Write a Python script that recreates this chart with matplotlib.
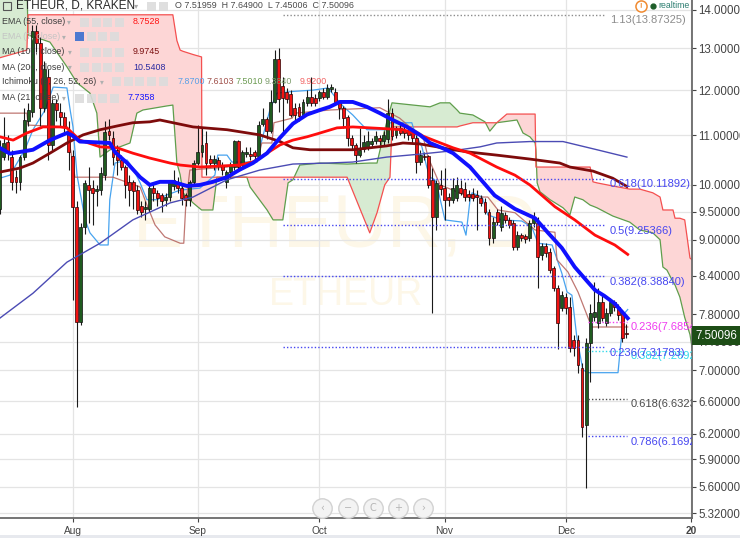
import numpy as np
import pandas as pd
import matplotlib
matplotlib.use('Agg')
import matplotlib.pyplot as plt
import matplotlib.transforms as mtransforms
from matplotlib.patches import Rectangle
from matplotlib.lines import Line2D
from matplotlib.ticker import NullLocator, NullFormatter

plt.rcParams['font.family'] = ['Liberation Sans', 'DejaVu Sans']

W, H = 740, 538
DAY0 = pd.Timestamp('2016-08-01')   # x axis = days since 1 Aug 2016

# daily candles 2016-07-14 .. 2016-12-16
candle_dates = pd.date_range('2016-07-14', '2016-12-16', freq='D')
opens = [9.55, 10.55, 10.86, 10.55, 10.15, 10.05, 10.55, 11.3, 11.5, 13.45,
         13.15, 11.6, 12.3, 10.8, 11.7, 11.5, 11.4, 11.1, 10.58, 9.59,
         7.68, 9.22, 10.0, 9.95, 9.88, 9.9, 10.2, 11.1, 10.95, 10.7,
         10.5, 10.35, 10.05, 10.05, 9.9, 9.6, 9.55, 9.55, 9.95, 9.85,
         9.8, 9.72, 9.78, 9.98, 10.05, 9.95, 9.8, 9.72, 10.05, 10.43,
         10.65, 10.85, 10.52, 10.43, 10.5, 10.4, 10.05, 10.25, 10.35, 10.88,
         10.4, 10.62, 10.62, 10.65, 10.57, 11.25, 11.35, 11.1, 11.73, 12.73,
         12.1, 11.95, 11.9, 11.6, 11.62, 11.45, 11.7, 11.85, 11.82, 11.82,
         11.95, 11.85, 12.02, 11.95, 11.73, 11.59, 11.4, 10.95, 10.8, 10.6,
         10.72, 10.75, 10.82, 10.88, 10.95, 10.88, 10.92, 11.48, 11.0, 11.15,
         11.12, 11.1, 11.05, 10.95, 10.45, 10.58, 10.58, 10.1, 9.4, 10.0,
         9.95, 9.78, 9.72, 9.76, 9.95, 9.92, 9.83, 9.83, 9.81, 9.75,
         9.68, 9.49, 9.03, 9.49, 9.22, 9.44, 9.35, 9.29, 8.88, 9.08,
         9.06, 9.03, 9.29, 9.29, 8.74, 8.9, 8.79, 8.52, 8.2, 7.9,
         8.06, 7.91, 7.42, 7.42, 7.03, 6.3, 7.38, 7.76, 7.67, 7.98,
         7.67, 7.82, 7.98, 7.91, 7.82, 7.51959]
highs = [10.9, 11.4, 11.0, 10.7, 10.3, 10.6, 11.6, 11.7, 13.6, 13.6,
         13.3, 12.7, 12.5, 11.8, 11.8, 11.7, 11.5, 11.3, 10.7, 9.7,
         9.3, 10.1, 10.35, 10.1, 10.0, 10.35, 11.3, 11.35, 11.1, 10.8,
         10.6, 10.4, 10.2, 10.1, 10.0, 9.7, 9.7, 10.0, 10.05, 9.9,
         9.85, 9.85, 10.1, 10.3, 10.15, 10.0, 9.85, 10.1, 10.5, 11.22,
         11.15, 11.1, 10.6, 10.6, 10.55, 10.45, 10.3, 10.45, 10.9, 10.9,
         10.7, 10.75, 10.75, 10.7, 11.3, 11.6, 11.4, 12.0, 12.95, 13.0,
         12.3, 12.05, 12.0, 11.7, 11.7, 11.8, 12.0, 12.3, 11.9, 12.0,
         12.05, 12.15, 12.15, 12.05, 11.75, 11.65, 11.45, 11.0, 10.85, 11.15,
         11.0, 11.1, 10.95, 11.1, 11.0, 11.1, 11.79, 11.6, 11.2, 11.25,
         11.2, 11.2, 11.15, 11.0, 10.7, 10.65, 10.6, 10.33, 10.1, 10.3,
         10.33, 9.85, 10.13, 10.15, 10.1, 10.05, 9.9, 9.95, 9.9, 9.8,
         9.75, 9.55, 9.4, 9.55, 9.6, 9.5, 9.4, 9.35, 9.15, 9.12,
         9.1, 9.35, 9.5, 9.4, 8.95, 8.95, 8.85, 8.55, 8.25, 8.15,
         8.12, 8.06, 7.5, 7.5, 7.1, 7.45, 7.95, 8.3, 8.2, 8.1,
         7.9, 8.05, 8.02, 7.95, 7.85, 7.649]
lows = [9.45, 10.5, 10.5, 9.9, 9.85, 9.9, 10.5, 11.2, 11.4, 12.9,
        11.2, 11.5, 10.5, 10.7, 11.3, 11.2, 11.0, 10.3, 8.02, 6.53,
        7.64, 9.1, 9.3, 9.25, 9.6, 9.8, 10.1, 10.9, 10.4, 10.2,
        10.3, 9.75, 9.6, 9.55, 9.45, 9.4, 9.35, 9.5, 9.7, 9.6,
        9.5, 9.6, 9.7, 9.9, 9.85, 9.62, 9.6, 9.6, 10.0, 10.4,
        10.55, 10.2, 10.35, 10.3, 10.3, 10.2, 9.95, 10.15, 10.3, 10.3,
        10.35, 10.55, 10.5, 10.5, 10.55, 11.2, 10.93, 11.05, 11.7, 11.5,
        11.0, 11.7, 11.4, 11.3, 11.3, 11.4, 11.65, 11.65, 11.65, 11.75,
        11.8, 11.8, 11.95, 11.7, 11.35, 11.15, 10.77, 10.7, 10.43, 10.55,
        10.65, 10.7, 10.75, 10.82, 10.8, 10.8, 10.85, 10.9, 10.95, 11.0,
        10.95, 10.9, 10.85, 10.23, 10.4, 10.5, 9.95, 7.82, 9.17, 9.8,
        9.35, 9.6, 9.65, 9.7, 9.8, 9.7, 9.7, 9.7, 9.17, 9.6,
        9.45, 8.91, 8.95, 9.25, 9.15, 9.3, 9.2, 8.83, 8.83, 8.98,
        8.95, 8.98, 9.22, 8.2, 8.65, 8.7, 8.45, 8.15, 7.3, 7.85,
        7.8, 7.25, 7.2, 6.97, 6.16, 5.58, 6.85, 7.7, 7.6, 7.7,
        7.62, 7.78, 7.85, 7.72, 7.4, 7.45006]
closes = [10.75, 10.85, 10.63, 10.06, 10.05, 10.55, 11.33, 11.55, 13.45, 13.14,
          11.6, 12.5, 10.8, 11.7, 11.55, 11.4, 11.2, 10.65, 9.59, 7.68,
          9.22, 10.04, 9.9, 9.85, 9.92, 10.23, 11.07, 11.0, 10.55, 10.5,
          10.35, 10.0, 9.9, 9.88, 9.53, 9.5, 9.58, 9.95, 9.85, 9.75,
          9.7, 9.78, 10.05, 10.1, 9.95, 9.75, 9.72, 10.05, 10.43, 10.65,
          10.8, 10.43, 10.43, 10.52, 10.4, 10.3, 10.25, 10.4, 10.88, 10.35,
          10.65, 10.65, 10.57, 10.57, 11.22, 11.35, 11.1, 11.73, 12.73, 11.8,
          11.82, 11.8, 11.45, 11.45, 11.42, 11.72, 11.85, 11.7, 11.7, 11.96,
          11.85, 12.05, 12.07, 11.73, 11.59, 11.38, 10.95, 10.8, 10.6, 10.7,
          10.87, 10.88, 10.88, 10.98, 10.88, 11.0, 11.48, 10.98, 11.12, 11.05,
          11.05, 11.0, 10.95, 10.45, 10.6, 10.55, 10.0, 9.4, 10.04, 9.93,
          9.72, 9.72, 9.95, 10.0, 9.85, 9.78, 9.78, 9.76, 9.77, 9.66,
          9.49, 9.03, 9.31, 9.31, 9.48, 9.35, 9.26, 8.88, 9.08, 9.03,
          9.01, 9.29, 9.38, 8.71, 8.9, 8.77, 8.49, 8.2, 7.67, 8.09,
          7.89, 7.31, 7.31, 7.07, 6.28, 7.38, 7.82, 7.84, 7.98, 7.74,
          7.82, 7.98, 7.91, 7.79, 7.45, 7.50096]

# indicator lines, read as (day, value) vertices
ma21_day = [-18, -15.5, -9.8, -5.6, -1.4, -0.1, 1.8, 9.2, 10.5, 13.5, 16.7, 19.1,
            21.6, 24.8, 28.3, 31.5, 34.7, 38.2, 41.4, 44.6, 48.1, 51.3, 54.5, 58,
            61.2, 63.6, 66.1, 69.3, 72.8, 76.0, 79.2, 82.7, 85.9, 88.4, 91.6, 94.1,
            98.3, 104.4, 109.4, 114.4, 117.6, 121.0, 124.2, 127.4, 129.2, 131.5,
            134.1, 137.3]
ma21_val = [10.74, 10.62, 10.70, 10.90, 11.05, 11.0, 10.87, 10.84, 10.65, 10.43,
            10.15, 10.0, 10.06, 10.06, 9.98, 10.0, 10.06, 10.15, 10.3, 10.43,
            10.63, 10.95, 11.25, 11.45, 11.55, 11.62, 11.73, 11.73, 11.62, 11.48,
            11.33, 11.18, 11.01, 10.84, 10.73, 10.63, 10.35, 9.8, 9.55, 9.38,
            9.12, 8.86, 8.54, 8.30, 8.17, 8.08, 7.96, 7.74]

ema55_day = [-18, -14.7, -11.3, -7.3, -3.1, -1.4, 1.8, 6.8, 11.0, 14.9, 19.1, 24.1,
             26.6, 31.5, 36.4, 41.4, 44.6, 48.1, 51.3, 54.5, 58.0, 61.2, 65.4,
             69.3, 73.5, 77.7, 81.7, 85.9, 90.1, 94.1, 98.3, 104.9, 109.4, 113.1,
             119.3, 124.2, 129.2, 134.1, 137.3]
ema55_val = [10.97, 10.90, 11.05, 11.18, 11.18, 11.16, 10.90, 10.76, 10.74, 10.63,
             10.53, 10.43, 10.39, 10.35, 10.37, 10.39, 10.45, 10.63, 10.80, 10.90,
             10.97, 11.05, 11.16, 11.18, 11.16, 11.14, 11.12, 11.01, 10.87, 10.74,
             10.63, 10.35, 10.19, 10.0, 9.59, 9.35, 9.08, 8.91, 8.75]

ma100_day = [-18, -13, -9.8, -5.6, -1.4, 2.6, 6.8, 11.0, 14.9, 19.1, 21.6, 29.8,
             38.2, 46.3, 51.3, 54.5, 58.7, 69.3, 77.7, 81.7, 85.9, 90.1, 94.1,
             98.3, 104.9, 113.1, 120.5, 123.0, 128.7, 133.6, 137.1]
ma100_val = [10.25, 10.33, 10.43, 10.63, 10.84, 11.01, 11.12, 11.20, 11.27, 11.29,
             11.33, 11.18, 11.12, 11.01, 10.87, 10.74, 10.70, 10.70, 10.78, 10.84,
             10.82, 10.76, 10.70, 10.65, 10.59, 10.51, 10.43, 10.35, 10.27, 10.13,
             9.97]

ma200_day = [-18, -9.8, -1.4, 6.8, 14.9, 24.1, 29.8, 38.2, 46.3, 54.5, 63.2, 69.3,
             77.7, 85.9, 94.1, 100.8, 104.9, 113.1, 121.3, 129.7, 137.1]
ma200_val = [7.74, 8.12, 8.62, 8.94, 9.35, 9.66, 9.77, 10.10, 10.29, 10.41, 10.43,
             10.45, 10.55, 10.61, 10.68, 10.76, 10.84, 10.87, 10.87, 10.70, 10.55]

conv_day = [-18, -15.5, -11.8, -9.8, -6.8, -4.8, -1.4, -0.6, 0.1, 1.1, 3.1, 4.3,
            6.8, 8.8, 9.2, 10.5, 13.5, 14.9, 16.7, 18.4, 20.9, 23.3, 26.6, 31.5,
            35.2, 35.9, 38.2, 39.4, 45.6, 46.8, 48.8, 50.5, 54.5, 59.5, 63.2, 66.1,
            67.9, 69.3, 71.1, 72.8, 77.7, 78.5, 83.9, 84.7, 86.4, 87.6, 88.4, 89.6,
            90.4, 92.1, 96.3, 97.3, 98.3, 98.8, 101.3, 102.7, 106.2, 111.1, 113.6,
            115.1, 118.6, 121.0, 122.3, 123.5, 124.7, 126.2, 127.4, 134.9, 135.6,
            136.6, 137.3]
conv_val = [10.13, 10.19, 10.70, 11.12, 11.55, 12.07, 12.05, 11.55, 11.18, 10.19,
            9.35, 9.12, 8.91, 8.91, 9.72, 10.43, 10.49, 10.33, 10.04, 9.72, 9.72,
            9.81, 9.90, 9.94, 10.19, 10.59, 10.59, 10.45, 10.45, 10.90, 11.55, 11.93,
            11.97, 12.0, 12.05, 11.71, 11.55, 11.44, 11.27, 11.12, 11.12, 11.27,
            11.27, 11.05, 10.76, 10.35, 10.15, 10.10, 9.90, 9.35, 9.31, 9.08, 9.72,
            9.85, 9.77, 9.44, 9.35, 9.33, 9.22, 8.94, 8.91, 8.44, 8.14, 8.09, 7.47,
            7.01, 6.97, 6.97, 7.38, 7.82, 7.87]

base_day = [-18, -11.3, -11.0, -1.4, 0.6, 10.0, 16.7, 18.4, 20.4, 22.8, 26.6, 27.5,
            28.0, 29.0, 38.2, 45.8, 46.8, 49.3, 49.8, 54.3, 55.0, 63.7, 76.0, 80.9,
            83.4, 86.6, 87.9, 90.9, 98.3, 102.7, 105.2, 109.4, 114.4, 119.3, 119.8,
            122.5, 125.0, 127.4, 128.4, 137.3]
base_val = [11.48, 11.48, 11.22, 11.18, 10.15, 10.15, 9.96, 9.62, 9.26, 9.05, 8.94,
            8.94, 9.62, 10.29, 10.35, 10.49, 10.84, 10.84, 11.27, 11.37, 11.48,
            11.55, 11.60, 11.37, 11.18, 11.01, 10.55, 10.0, 9.77, 9.77, 9.53, 9.48,
            9.17, 9.13, 8.66, 8.46, 8.14, 7.76, 7.61, 7.61]

cloud_day = [-18, -11.3, -11.0, -7.3, -5.6, -1.4, 1.1, 4.3, 6.0, 6.8, 9.3, 11.7,
             14.2, 15.9, 17.4, 23.3, 24.8, 25.8, 26.6, 27.3, 29.8, 31.9, 32.0, 34.7,
             35.7, 43.1, 43.9, 48.1, 49.6, 52.0, 53.3, 54.5, 56.2, 61.2, 67.9, 73.5,
             75.3, 77.2, 78.5, 79.0, 88.4, 90.9, 93.3, 95.1, 95.8, 99.0, 102.0, 103.2,
             104.9, 107.4, 109.9, 111.4, 113.1, 114.4, 114.6, 114.9, 115.6, 118.1,
             121.3, 123.0, 124.2, 126.2, 128.0, 128.7, 129.7, 133.6, 137.8, 140.3,
             143.5, 145.3, 146.0, 147.0, 148.5, 149.0, 150.2, 151.4, 152.7, 153.2]
lead1_val = [14.69, 14.69, 13.34, 13.22, 13.16, 12.55, 12.17, 11.93, 11.48, 10.55,
             10.70, 10.76, 10.84, 11.48, 11.55, 11.64, 11.66, 10.43, 10.20, 9.85,
             9.66, 9.53, 9.53, 9.53, 10.15, 10.15, 9.96, 9.53, 9.35, 9.35, 10.04,
             10.10, 10.39, 10.43, 10.41, 10.43, 10.43, 11.12, 11.55, 11.71, 11.62,
             11.71, 11.71, 11.55, 11.48, 11.44, 11.29, 11.09, 11.27, 11.30, 11.33,
             11.05, 10.97, 10.84, 10.70, 10.04, 9.87, 9.72, 9.57, 9.44, 9.77, 9.72,
             9.62, 9.60, 9.57, 9.42, 9.31, 9.17, 9.12, 9.00, 8.54, 8.49, 8.30, 8.25,
             8.06, 7.75, 7.50, 7.32]
lead2_val = [12.77, 12.96, 13.87, 13.87, 13.87, 13.87, 13.87, 13.87, 13.87, 13.87,
             13.87, 13.87, 13.87, 13.87, 13.87, 13.87, 13.87, 13.20, 12.96, 12.93,
             12.85, 12.79, 10.15, 10.15, 10.15, 10.15, 10.15, 10.15, 10.15, 10.15,
             10.15, 10.15, 10.15, 10.15, 10.15, 9.12, 9.48, 10.00, 10.15, 11.18,
             11.18, 11.18, 11.18, 11.18, 11.20, 11.27, 11.27, 11.27, 11.27, 11.46,
             11.46, 11.46, 11.46, 11.46, 10.35, 10.35, 10.35, 10.35, 10.35, 10.35,
             10.35, 10.35, 10.35, 10.06, 10.04, 9.98, 9.92, 9.92, 9.85, 9.77, 9.53,
             9.53, 9.53, 9.38, 9.38, 9.35, 8.69, 8.66]

# fibonacci levels
fib_main_names = ['1.13', '0.618', '0.5', '0.382', '0.236']
fib_main_values = [13.87325, 10.11892, 9.25366, 8.38840, 7.31783]
fib_main_colors = ['#8c8c8c', '#4646f0', '#4646f0', '#4646f0', '#4646f0']
fib_late_names = ['0.236', '0.382', '0.618', '0.786']
fib_late_values = [7.68540, 7.26929, 6.63230, 6.16920]
fib_late_colors = ['#f03cf0', '#2fd8ea', '#4a4a4a', '#4646f0']

ytick_values = [14.0, 13.0, 12.0, 11.0, 10.0, 9.5, 9.0, 8.4, 7.8, 7.4, 7.0, 6.6,
                6.2, 5.9, 5.6, 5.32]
month_starts = ['2016-08-01', '2016-09-01', '2016-10-01', '2016-11-01',
                '2016-12-01', '2017-01-01']
month_labels = ['Aug', 'Sep', 'Oct', 'Nov', 'Dec', '20']

legend_names = ['EMA (55, close)', 'EMA (7, close)', 'MA (100, close)',
                'MA (200, close)', 'Ichimoku (9, 26, 52, 26)', 'MA (21, close)']
legend_values = [['8.7528'], [], ['9.9745'], ['10.5408'],
                 ['7.8700', '7.6103', '7.5010', '9.3840', '9.9200'], ['7.7358']]
legend_value_colors = [['#ff1414'], [], ['#7a1010'], ['#2a2aa0'],
                       ['#5aa0e6', '#a0504a', '#6a9a50', '#7c9c6c', '#f26464'],
                       ['#1414ff']]
last_price = '7.50096'
ohlc_text = 'O 7.51959  H 7.64900  L 7.45006  C 7.50096'


def fx(px):
    return px / W


def fy(py):
    return 1 - py / H


fig = plt.figure(figsize=(W / 100, H / 100), dpi=100)
ax = fig.add_axes([0, 20 / H, 692 / W, 518 / H])
ax.set_yscale('log')
ax.set_xlim(-17.95, 153.2)
ax.set_ylim(5.271, 14.27)

# cloud
cd = np.array(cloud_day)
l1 = np.array(lead1_val)
l2 = np.array(lead2_val)
ax.fill_between(cd, l1, l2, where=l1 >= l2, interpolate=True,
                color='#d7ebd2', lw=0, zorder=1)
ax.fill_between(cd, l1, l2, where=l1 < l2, interpolate=True,
                color='#fdd6d6', lw=0, zorder=1)
ax.plot(cd, l1, color='#5f9e4c', lw=0.9, zorder=2)
ax.plot(cd, l2, color='#f45050', lw=0.9, zorder=2)

# watermark
ax.text(0.484, 0.56, 'ETHEUR, D', transform=ax.transAxes, ha='center',
        va='center', fontsize=54, color='#fdf7e8', zorder=0.5)
ax.text(0.50, 0.43, 'ETHEUR', transform=ax.transAxes, ha='center',
        va='center', fontsize=27, color='#fdf7e8', zorder=0.5)

# ichimoku conversion / base
ax.plot(conv_day, conv_val, color='#47a3ef', lw=0.9, zorder=3)
ax.plot(base_day, base_val, color='#b4605a', lw=0.9, alpha=0.85, zorder=3)

# candles
x = (candle_dates - DAY0).days.to_numpy()
o, hi, lo, c = (np.array(a) for a in (opens, highs, lows, closes))
up = c >= o
ax.vlines(x, lo, hi, color='#1a1a1a', lw=0.8, zorder=4)
b_lo = np.minimum(o, c)
b_hi = np.maximum(np.maximum(o, c), b_lo * 1.003)
ax.bar(x[up], (b_hi - b_lo)[up], bottom=b_lo[up], width=0.72,
       color='#1f5b1f', edgecolor='#111111', lw=0.5, zorder=5)
ax.bar(x[~up], (b_hi - b_lo)[~up], bottom=b_lo[~up], width=0.72,
       color='#f21212', edgecolor='#2a0000', lw=0.5, zorder=5)

# moving averages
ax.plot(ma200_day, ma200_val, color='#4b4bb4', lw=1.0, zorder=6)
ax.plot(ma100_day, ma100_val, color='#7e0b0b', lw=2.0, zorder=6)
ax.plot(ema55_day, ema55_val, color='#ff0d0d', lw=2.0, zorder=6)
ax.plot(ma21_day, ma21_val, color='#1010ff', lw=2.8, zorder=7)

# fibonacci lines and labels
lab_trans = mtransforms.offset_copy(ax.transData, fig=fig, x=0, y=-4, units='points')
for name, val, col in zip(fib_late_names, fib_late_values, fib_late_colors):
    ax.plot([127.4, 137.1], [val, val], ls=(0, (1, 1.5)), color=col, lw=1, zorder=6)
    ax.text(138.1, val, f'{name}({val:.5f})', color=col, fontsize=8,
            va='center', ha='left', transform=lab_trans, clip_on=True, zorder=8)
for name, val, col in zip(fib_main_names, fib_main_values, fib_main_colors):
    ax.plot([52.0, 131.6], [val, val], ls=(0, (1, 1.5)), color=col, lw=1, zorder=6)
    ax.text(132.9, val, f'{name}({val:.5f})', color=col, fontsize=8,
            va='center', ha='left', transform=lab_trans, clip_on=True, zorder=8)

# axes styling
ax.set_yticks(ytick_values)
ax.set_yticklabels([f'{v:.5f}' for v in ytick_values])
ax.yaxis.set_minor_locator(NullLocator())
ax.yaxis.set_minor_formatter(NullFormatter())
ax.yaxis.tick_right()
ax.set_xticks([(pd.Timestamp(d) - DAY0).days for d in month_starts])
ax.set_xticklabels(month_labels)
ax.get_xticklabels()[-1].set_fontweight('bold')
ax.tick_params(axis='y', length=3, pad=1.5, labelsize=8.3, colors='#444444')
ax.tick_params(axis='x', length=3, pad=3, labelsize=7.3, colors='#444444')
ax.grid(True, color='#e4e4e4', lw=0.9)
ax.set_axisbelow(True)
for side in ('top', 'left'):
    ax.spines[side].set_visible(False)
for side in ('right', 'bottom'):
    ax.spines[side].set_color('#6a6a6a')
    ax.spines[side].set_linewidth(1.3)

# bottom strip and navigation buttons
fig.add_artist(Rectangle((0, 0), 1, 3 / H, transform=fig.transFigure,
                         facecolor='#e7e9ee', edgecolor='none', zorder=-1))
for px, sym in zip([322, 348, 373, 398, 423], ['‹', '−', 'C', '+', '›']):
    fig.add_artist(Line2D([fx(px)], [fy(508)], marker='o', markersize=14,
                          mfc='#f3f3f3', mec='#d2d2d2', mew=1,
                          transform=fig.transFigure, zorder=9))
    fig.text(fx(px), fy(508), sym, ha='center', va='center', fontsize=7,
             color='#b5b5b5', family=['DejaVu Sans'], zorder=10)

# last price label
fig.add_artist(Rectangle((fx(692), fy(345)), 48 / W, 19 / H,
                         transform=fig.transFigure, facecolor='#1d4d16',
                         edgecolor='none', zorder=9))
fig.text(fx(716), fy(336), last_price, ha='center', va='center',
         fontsize=8.3, color='white', zorder=10)

# realtime badge
fig.add_artist(Line2D([fx(641)], [fy(6)], marker='o', markersize=8,
                      mfc='white', mec='#f08a30', mew=1.1,
                      transform=fig.transFigure, zorder=9))
fig.text(fx(641), fy(6.5), '!', ha='center', va='center', fontsize=5.5,
         color='#f08a30', fontweight='bold', zorder=10)
fig.add_artist(Line2D([fx(653)], [fy(6)], marker='o', markersize=3.5,
                      mfc='#1e5e2a', mec='#1e5e2a', transform=fig.transFigure,
                      zorder=9))
fig.text(fx(658), fy(6), 'realtime', ha='left', va='center', fontsize=6.3,
         color='#2b7d70', zorder=10)


def icons(x0, y, n, first=None):
    for i in range(n):
        col = first if (i == 0 and first) else '#dcdcdc'
        fig.add_artist(Rectangle((fx(x0 + i * 11.7), fy(y + 4.5)), 9 / W, 9 / H,
                                 transform=fig.transFigure, facecolor=col,
                                 edgecolor='none', alpha=0.9, zorder=9))


# header
fig.add_artist(Rectangle((fx(3), fy(10)), 8 / W, 8 / H, transform=fig.transFigure,
                         facecolor='none', edgecolor='#555555', lw=0.8, zorder=9))
fig.text(fx(16), fy(6), 'ETHEUR, D, KRAKEN', ha='left', va='center',
         fontsize=8.6, color='#2a2a2a', zorder=10)
fig.text(fx(134), fy(6), '▾', ha='left', va='center', fontsize=6,
         color='#aaaaaa', family=['DejaVu Sans'], zorder=10)
icons(147, 6, 2)
fig.text(fx(175), fy(6), ohlc_text, ha='left', va='center', fontsize=6.4,
         color='#4a4a4a', zorder=10)

# indicator legend
row_y = [22, 37, 52, 67, 82, 98]
row_icon_x = [80, 75, 80, 80, 112, 75]
row_icon_n = [4, 4, 4, 4, 5, 4]
row_caret_x = [67, 62, 68, 68, 100, 62]
row_value_x = [[133], [], [133], [133], [178, 207, 236, 265, 300], [128]]
for i, name in enumerate(legend_names):
    y = row_y[i]
    fig.text(fx(2), fy(y), name, ha='left', va='center', fontsize=6.4,
             color='#c4c4c4' if i == 1 else '#3c3c3c', zorder=10)
    fig.text(fx(row_caret_x[i]), fy(y), '▾', ha='left', va='center', fontsize=5.5,
             color='#b0b0b0', family=['DejaVu Sans'], zorder=10)
    icons(row_icon_x[i], y, row_icon_n[i], first='#3a6fd0' if i == 1 else None)
    for vx, val, col in zip(row_value_x[i], legend_values[i], legend_value_colors[i]):
        fig.text(fx(vx), fy(y), val, ha='left', va='center', fontsize=6.4,
                 color=col, zorder=10)

fig.savefig('out.png', dpi=100)
